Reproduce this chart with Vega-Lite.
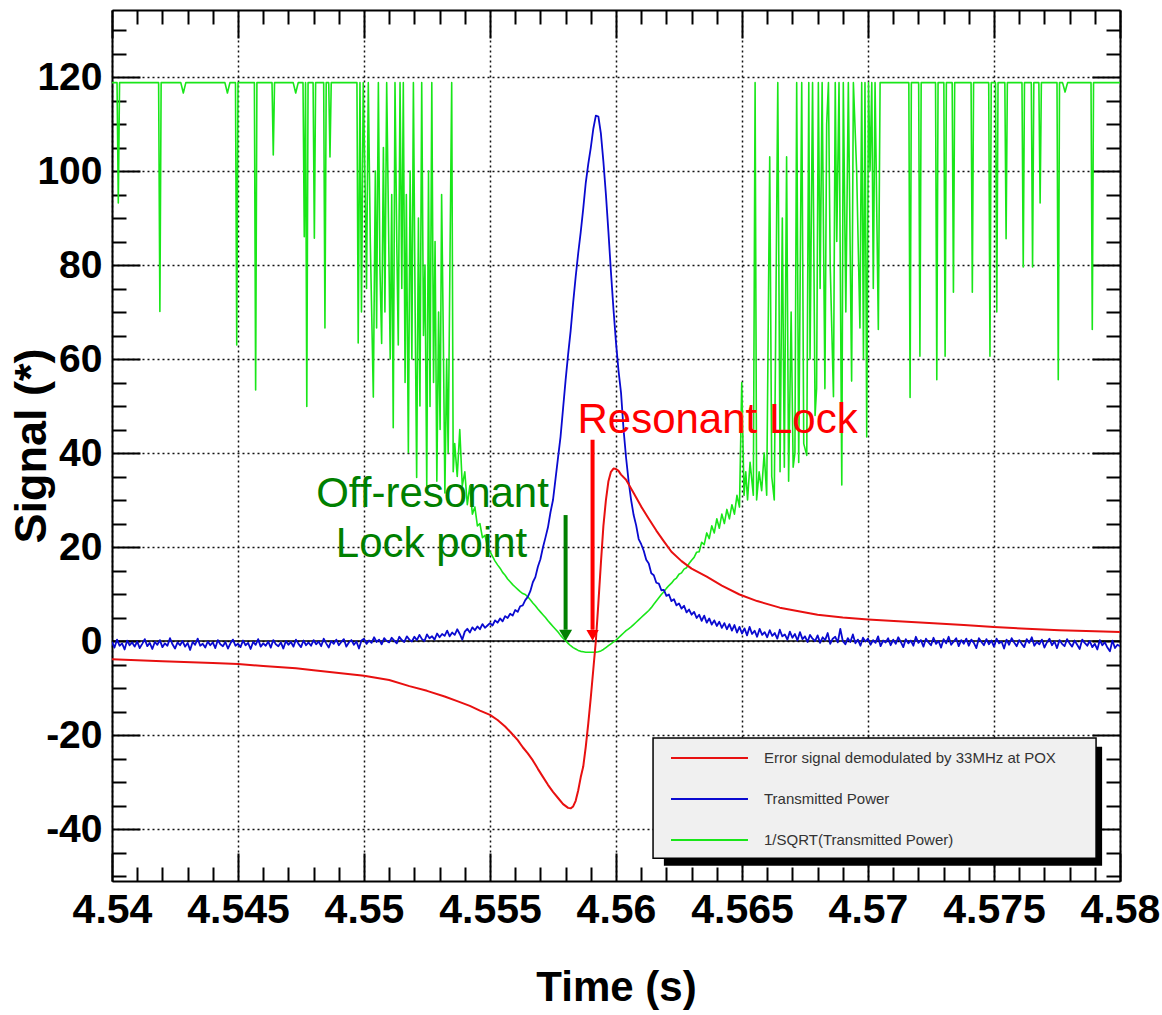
{
"$schema": "https://vega.github.io/schema/vega-lite/v6.json",
"width": 1008,
"height": 871,
"autosize": {"type": "none"},
"padding": {"left": 112, "top": 10, "right": 42, "bottom": 134},
"background": "white",
"config": {"view": {"stroke": null}, "axis": {"labelFont": "Liberation Sans", "titleFont": "Liberation Sans"}},
"datasets": {
"green": [
{"t":4.54,"v":118.8},
{"t":4.5402,"v":118.8},{"t":4.54025,"v":93.2},{"t":4.5403,"v":118.8},
{"t":4.54185,"v":118.8},{"t":4.5419,"v":70.1},{"t":4.54195,"v":118.8},
{"t":4.54273,"v":118.8},{"t":4.54283,"v":116.6},{"t":4.54293,"v":118.8},
{"t":4.54448,"v":118.8},{"t":4.54458,"v":116.6},{"t":4.54468,"v":118.8},
{"t":4.5449,"v":118.8},{"t":4.54495,"v":63},{"t":4.545,"v":118.8},
{"t":4.54565,"v":118.8},{"t":4.5457,"v":53.4},{"t":4.54575,"v":118.8},
{"t":4.54635,"v":118.8},{"t":4.5464,"v":103.4},{"t":4.54645,"v":118.8},
{"t":4.54719,"v":118.8},{"t":4.54729,"v":116.6},{"t":4.54739,"v":118.8},
{"t":4.54758,"v":118.8},{"t":4.54763,"v":86},{"t":4.54768,"v":118.8},{"t":4.54773,"v":49.9},{"t":4.54778,"v":118.8},
{"t":4.54798,"v":118.8},{"t":4.54803,"v":85.7},{"t":4.54808,"v":118.8},
{"t":4.5484,"v":118.8},{"t":4.54845,"v":66.6},{"t":4.5485,"v":118.8},
{"t":4.5486,"v":118.8},{"t":4.54865,"v":103},{"t":4.5487,"v":118.8},
{"t":4.54972,"v":118.8},{"t":4.54977,"v":63.4},{"t":4.54984,"v":118.8},
{"t":4.5499,"v":70},{"t":4.54997,"v":118.8},
{"t":4.55005,"v":95},{"t":4.5501,"v":75},{"t":4.55017,"v":118.8},
{"t":4.55025,"v":85},{"t":4.55037,"v":51.9},{"t":4.55045,"v":100},{"t":4.5505,"v":66.6},{"t":4.55057,"v":118.8},
{"t":4.55063,"v":80},{"t":4.5507,"v":63.3},{"t":4.55077,"v":105},{"t":4.55083,"v":70},{"t":4.5509,"v":118.8},
{"t":4.55097,"v":90},{"t":4.55104,"v":60},{"t":4.5511,"v":95},{"t":4.55116,"v":45.4},{"t":4.55123,"v":118.8},
{"t":4.5513,"v":85},{"t":4.55136,"v":63},{"t":4.55143,"v":118.8},{"t":4.5515,"v":75},{"t":4.55156,"v":118.8},
{"t":4.55163,"v":55},{"t":4.55168,"v":95},{"t":4.55176,"v":40.1},{"t":4.55183,"v":100},{"t":4.5519,"v":60},{"t":4.55196,"v":118.8},
{"t":4.55203,"v":70},{"t":4.55209,"v":34.8},{"t":4.55216,"v":90},{"t":4.55222,"v":50},{"t":4.55229,"v":118.8},
{"t":4.55236,"v":65},{"t":4.55242,"v":80},{"t":4.55249,"v":33.1},{"t":4.55256,"v":100},{"t":4.55262,"v":49.9},{"t":4.55269,"v":118.8},
{"t":4.55276,"v":55},{"t":4.55282,"v":85},{"t":4.55289,"v":34},{"t":4.55296,"v":70},{"t":4.55302,"v":45},{"t":4.55308,"v":95},
{"t":4.55315,"v":63.4},{"t":4.55321,"v":31.5},{"t":4.55328,"v":60},{"t":4.55334,"v":40},{"t":4.55341,"v":80},{"t":4.55348,"v":118.8},
{"t":4.55354,"v":36},
{"t":4.5536,"v":42},{"t":4.5537,"v":35},{"t":4.5538,"v":45},{"t":4.5539,"v":33},{"t":4.554,"v":36},{"t":4.5541,"v":29},{"t":4.5542,"v":33},{"t":4.5543,"v":27},{"t":4.5544,"v":28.5},{"t":4.5545,"v":24.5},
{"t":4.5546,"v":25},{"t":4.5547,"v":22},{"t":4.5548,"v":22.5},{"t":4.5549,"v":20},{"t":4.555,"v":19},{"t":4.5551,"v":18},{"t":4.5552,"v":17},{"t":4.5553,"v":16.2},{"t":4.5554,"v":15.5},{"t":4.5555,"v":14.6},
{"t":4.5556,"v":14},{"t":4.5557,"v":13.2},{"t":4.5558,"v":12.6},{"t":4.5559,"v":12},{"t":4.556,"v":11.5},{"t":4.5561,"v":11},{"t":4.5562,"v":10.5},{"t":4.5563,"v":10.1},{"t":4.5564,"v":9.9},{"t":4.5565,"v":9.4},
{"t":4.5566,"v":8.8},{"t":4.5567,"v":8.1},{"t":4.5568,"v":7.5},{"t":4.5569,"v":6.8},{"t":4.557,"v":6.2},{"t":4.5571,"v":5.6},{"t":4.5572,"v":5},{"t":4.5573,"v":4.3},{"t":4.5574,"v":3.7},{"t":4.5575,"v":3.1},
{"t":4.5576,"v":2.5},{"t":4.5577,"v":1.9},{"t":4.5578,"v":1.2},{"t":4.5579,"v":0.6},{"t":4.558,"v":0.1},{"t":4.5581,"v":-0.5},{"t":4.5582,"v":-1},{"t":4.5583,"v":-1.4},{"t":4.5584,"v":-1.7},{"t":4.5585,"v":-2},
{"t":4.5586,"v":-2.2},{"t":4.5587,"v":-2.3},{"t":4.5588,"v":-2.4},{"t":4.5589,"v":-2.4},{"t":4.559,"v":-2.4},{"t":4.5591,"v":-2.4},{"t":4.5592,"v":-2.4},{"t":4.5593,"v":-2.3},{"t":4.5594,"v":-2.1},{"t":4.5595,"v":-1.8},
{"t":4.5596,"v":-1.4},{"t":4.5597,"v":-1},{"t":4.5598,"v":-0.6},{"t":4.5599,"v":-0.2},{"t":4.56,"v":0.2},{"t":4.5601,"v":0.7},{"t":4.5602,"v":1.2},{"t":4.5603,"v":1.7},{"t":4.5604,"v":2.2},{"t":4.5605,"v":2.6},
{"t":4.5606,"v":3},{"t":4.5607,"v":3.5},{"t":4.5608,"v":4},{"t":4.5609,"v":4.5},{"t":4.561,"v":5},{"t":4.5611,"v":5.5},{"t":4.5612,"v":6},{"t":4.5613,"v":6.5},{"t":4.5614,"v":7.1},{"t":4.5615,"v":7.8},
{"t":4.5616,"v":8.5},{"t":4.5617,"v":9.2},{"t":4.5618,"v":9.9},{"t":4.5619,"v":10.5},{"t":4.562,"v":11.2},{"t":4.5621,"v":11.8},{"t":4.5622,"v":12.3},{"t":4.5623,"v":13},{"t":4.5624,"v":13.4},{"t":4.5625,"v":14.2},
{"t":4.5626,"v":14.5},{"t":4.5627,"v":15.3},{"t":4.5628,"v":15.6},{"t":4.5629,"v":16.5},{"t":4.563,"v":17.2},{"t":4.5631,"v":17.8},{"t":4.5632,"v":18.9},{"t":4.5633,"v":19},{"t":4.5634,"v":21},{"t":4.5635,"v":20.5},
{"t":4.5636,"v":23},{"t":4.5637,"v":21.8},{"t":4.5638,"v":24.5},{"t":4.5639,"v":23},{"t":4.564,"v":26},{"t":4.5641,"v":24},{"t":4.5642,"v":27},{"t":4.5643,"v":25},{"t":4.5644,"v":28},{"t":4.5645,"v":26},
{"t":4.5646,"v":29},{"t":4.5647,"v":27},{"t":4.5648,"v":31},{"t":4.5649,"v":28.5},
{"t":4.56499,"v":55},{"t":4.56508,"v":31},{"t":4.56515,"v":36},{"t":4.56522,"v":30},{"t":4.56532,"v":38},{"t":4.56545,"v":31},{"t":4.56552,"v":118.8},{"t":4.56558,"v":30},{"t":4.56568,"v":36},{"t":4.56578,"v":32},
{"t":4.56588,"v":40},{"t":4.56598,"v":31},{"t":4.5661,"v":103},{"t":4.56618,"v":35},{"t":4.56628,"v":30},{"t":4.56642,"v":118.8},{"t":4.56651,"v":36},{"t":4.5666,"v":90},{"t":4.56668,"v":37},{"t":4.56677,"v":103},
{"t":4.56685,"v":34},{"t":4.56695,"v":70},{"t":4.56703,"v":37},{"t":4.5671,"v":40},{"t":4.56717,"v":118.8},{"t":4.56725,"v":38},{"t":4.56737,"v":118.8},{"t":4.56745,"v":42},{"t":4.56757,"v":39.5},{"t":4.56765,"v":118.8},
{"t":4.5677,"v":60},{"t":4.5678,"v":118.8},{"t":4.5679,"v":48},{"t":4.56796,"v":53.7},{"t":4.56803,"v":118.8},{"t":4.5681,"v":75},{"t":4.56818,"v":118.8},{"t":4.56829,"v":53.7},{"t":4.56836,"v":110},{"t":4.56843,"v":118.8},
{"t":4.5685,"v":80},{"t":4.56863,"v":52},{"t":4.5687,"v":118.8},{"t":4.56876,"v":85},{"t":4.56885,"v":118.8},{"t":4.56896,"v":33.2},{"t":4.56902,"v":118.8},{"t":4.56912,"v":70},{"t":4.56922,"v":118.8},{"t":4.56935,"v":55.3},
{"t":4.56942,"v":118.8},{"t":4.56955,"v":100},{"t":4.56968,"v":66.6},{"t":4.56975,"v":118.8},{"t":4.56982,"v":60},{"t":4.56988,"v":118.8},{"t":4.56995,"v":43.4},{"t":4.57002,"v":118.8},{"t":4.57008,"v":100},{"t":4.57015,"v":118.8},
{"t":4.57021,"v":75},{"t":4.57028,"v":118.8},{"t":4.57041,"v":66.3},{"t":4.57048,"v":118.8},
{"t":4.57162,"v":118.8},{"t":4.57167,"v":51.8},{"t":4.57172,"v":118.8},
{"t":4.57201,"v":118.8},{"t":4.57206,"v":60.6},{"t":4.57211,"v":118.8},
{"t":4.57268,"v":118.8},{"t":4.57273,"v":55.6},{"t":4.57278,"v":118.8},
{"t":4.57301,"v":118.8},{"t":4.57306,"v":60.6},{"t":4.57311,"v":118.8},
{"t":4.57334,"v":118.8},{"t":4.57339,"v":74.2},{"t":4.57344,"v":118.8},
{"t":4.57409,"v":118.8},{"t":4.57414,"v":74.2},{"t":4.57419,"v":118.8},
{"t":4.57479,"v":118.8},{"t":4.57484,"v":60.6},{"t":4.57489,"v":118.8},
{"t":4.57506,"v":118.8},{"t":4.57511,"v":70},{"t":4.57516,"v":118.8},
{"t":4.57543,"v":118.8},{"t":4.57548,"v":85.6},{"t":4.57553,"v":118.8},
{"t":4.57611,"v":118.8},{"t":4.57616,"v":79.6},{"t":4.57621,"v":118.8},
{"t":4.57648,"v":118.8},{"t":4.57653,"v":79.6},{"t":4.57658,"v":118.8},
{"t":4.57678,"v":118.8},{"t":4.57683,"v":93.2},{"t":4.57688,"v":118.8},
{"t":4.5775,"v":118.8},{"t":4.57755,"v":55.6},{"t":4.5776,"v":118.8},
{"t":4.57772,"v":118.8},{"t":4.57782,"v":116.8},{"t":4.57792,"v":118.8},
{"t":4.57885,"v":118.8},{"t":4.5789,"v":66.3},{"t":4.57895,"v":118.8},
{"t":4.58,"v":118.8}
],
"blue": [
{"t":4.5400,"v":-0.2},{"t":4.5401,"v":-1.4},{"t":4.5402,"v":0.3},{"t":4.5403,"v":-1.0},{"t":4.5404,"v":-0.5},{"t":4.5405,"v":-1.8},{"t":4.5406,"v":0.1},{"t":4.5407,"v":-0.9},{"t":4.5408,"v":-0.3},{"t":4.5409,"v":-1.2},
{"t":4.5410,"v":-0.1},{"t":4.5411,"v":-1.5},{"t":4.5412,"v":-0.6},{"t":4.5413,"v":0.4},{"t":4.5414,"v":-1.1},{"t":4.5415,"v":-0.4},{"t":4.5416,"v":-1.7},{"t":4.5417,"v":-0.2},{"t":4.5418,"v":-0.8},{"t":4.5419,"v":0.2},
{"t":4.5420,"v":-1.3},{"t":4.5421,"v":-0.5},{"t":4.5422,"v":-1.0},{"t":4.5423,"v":0.6},{"t":4.5424,"v":-0.7},{"t":4.5425,"v":-1.6},{"t":4.5426,"v":-0.3},{"t":4.5427,"v":-0.9},{"t":4.5428,"v":0.0},{"t":4.5429,"v":-1.2},
{"t":4.5430,"v":-0.4},{"t":4.5431,"v":-1.9},{"t":4.5432,"v":-0.2},{"t":4.5433,"v":-0.8},{"t":4.5434,"v":0.5},{"t":4.5435,"v":-1.0},{"t":4.5436,"v":-0.6},{"t":4.5437,"v":-1.4},{"t":4.5438,"v":-0.1},{"t":4.5439,"v":-0.9},
{"t":4.5440,"v":-0.3},{"t":4.5441,"v":-1.5},{"t":4.5442,"v":0.2},{"t":4.5443,"v":-0.7},{"t":4.5444,"v":-1.1},{"t":4.5445,"v":-0.2},{"t":4.5446,"v":-1.6},{"t":4.5447,"v":-0.5},{"t":4.5448,"v":0.3},{"t":4.5449,"v":-1.0},
{"t":4.5450,"v":-0.6},{"t":4.5451,"v":-1.3},{"t":4.5452,"v":0.1},{"t":4.5453,"v":-0.9},{"t":4.5454,"v":-0.4},{"t":4.5455,"v":-1.7},{"t":4.5456,"v":-0.2},{"t":4.5457,"v":-0.8},{"t":4.5458,"v":0.4},{"t":4.5459,"v":-1.2},
{"t":4.5460,"v":-0.5},{"t":4.5461,"v":-1.0},{"t":4.5462,"v":-0.1},{"t":4.5463,"v":-1.4},{"t":4.5464,"v":0.2},{"t":4.5465,"v":-0.7},{"t":4.5466,"v":-1.1},{"t":4.5467,"v":-0.3},{"t":4.5468,"v":-1.6},{"t":4.5469,"v":0.0},
{"t":4.5470,"v":-0.8},{"t":4.5471,"v":-0.2},{"t":4.5472,"v":-1.2},{"t":4.5473,"v":0.3},{"t":4.5474,"v":-0.6},{"t":4.5475,"v":-1.3},{"t":4.5476,"v":0.1},{"t":4.5477,"v":-0.9},{"t":4.5478,"v":-0.3},{"t":4.5479,"v":-1.0},
{"t":4.5480,"v":0.2},{"t":4.5481,"v":-0.7},{"t":4.5482,"v":-0.1},{"t":4.5483,"v":-1.1},{"t":4.5484,"v":0.5},{"t":4.5485,"v":-0.5},{"t":4.5486,"v":-1.4},{"t":4.5487,"v":0.0},{"t":4.5488,"v":-0.6},{"t":4.5489,"v":0.3},
{"t":4.5490,"v":-0.9},{"t":4.5491,"v":-0.2},{"t":4.5492,"v":0.4},{"t":4.5493,"v":-1.2},{"t":4.5494,"v":-0.3},{"t":4.5495,"v":0.2},{"t":4.5496,"v":-0.8},{"t":4.5497,"v":-0.1},{"t":4.5498,"v":-1.6},{"t":4.5499,"v":0.1},
{"t":4.5500,"v":0.5},{"t":4.5501,"v":-0.6},{"t":4.5502,"v":0.1},{"t":4.5503,"v":-0.4},{"t":4.5504,"v":0.8},{"t":4.5505,"v":-0.2},{"t":4.5506,"v":0.3},{"t":4.5507,"v":-0.7},{"t":4.5508,"v":0.6},{"t":4.5509,"v":0.0},
{"t":4.5510,"v":-0.3},{"t":4.5511,"v":0.7},{"t":4.5512,"v":0.1},{"t":4.5513,"v":-0.5},{"t":4.5514,"v":0.9},{"t":4.5515,"v":0.2},{"t":4.5516,"v":-0.2},{"t":4.5517,"v":1.0},{"t":4.5518,"v":0.3},{"t":4.5519,"v":-0.1},
{"t":4.5520,"v":0.9},{"t":4.5521,"v":0.2},{"t":4.5522,"v":1.3},{"t":4.5523,"v":0.4},{"t":4.5524,"v":0.0},{"t":4.5525,"v":1.4},{"t":4.5526,"v":0.6},{"t":4.5527,"v":1.0},{"t":4.5528,"v":0.3},{"t":4.5529,"v":1.6},
{"t":4.5530,"v":0.8},{"t":4.5531,"v":1.5},{"t":4.5532,"v":1.1},{"t":4.5533,"v":2.2},{"t":4.5534,"v":1.0},{"t":4.5535,"v":1.8},{"t":4.5536,"v":1.3},{"t":4.5537,"v":2.5},{"t":4.5538,"v":1.5},{"t":4.5539,"v":0.3},
{"t":4.5540,"v":2.0},{"t":4.5541,"v":2.6},{"t":4.5542,"v":1.8},{"t":4.5543,"v":2.9},{"t":4.5544,"v":2.3},{"t":4.5545,"v":3.1},{"t":4.5546,"v":2.5},{"t":4.5547,"v":3.6},{"t":4.5548,"v":2.8},{"t":4.5549,"v":3.3},
{"t":4.5550,"v":3.8},{"t":4.5551,"v":3.3},{"t":4.5552,"v":4.4},{"t":4.5553,"v":3.9},{"t":4.5554,"v":4.8},{"t":4.5555,"v":4.2},{"t":4.5556,"v":5.3},{"t":4.5557,"v":4.9},{"t":4.5558,"v":5.8},{"t":4.5559,"v":5.4},
{"t":4.5560,"v":6.6},{"t":4.5561,"v":6.2},{"t":4.5562,"v":7.4},{"t":4.5563,"v":7.6},{"t":4.5564,"v":8.7},{"t":4.5565,"v":9.4},{"t":4.5566,"v":10.6},{"t":4.5567,"v":12.5},{"t":4.5568,"v":13.6},{"t":4.5569,"v":15.8},
{"t":4.5570,"v":17.4},{"t":4.5571,"v":19.9},{"t":4.5572,"v":22.0},{"t":4.5573,"v":24.2},{"t":4.5574,"v":27.4},{"t":4.5575,"v":30.0},{"t":4.5576,"v":34.5},{"t":4.5577,"v":39.0},{"t":4.5578,"v":43.5},{"t":4.5579,"v":49.5},
{"t":4.5580,"v":55.5},{"t":4.5581,"v":61},{"t":4.5582,"v":66},{"t":4.5583,"v":72},{"t":4.5584,"v":77.5},{"t":4.5585,"v":82.5},{"t":4.5586,"v":87},{"t":4.5587,"v":92},{"t":4.5588,"v":97.5},{"t":4.5589,"v":101.5},
{"t":4.5590,"v":105},{"t":4.5591,"v":109},{"t":4.5592,"v":111.8},{"t":4.5593,"v":111.6},{"t":4.5594,"v":108},{"t":4.5595,"v":102},{"t":4.5596,"v":95},{"t":4.5597,"v":87},{"t":4.5598,"v":78.5},{"t":4.5599,"v":70.6},
{"t":4.5600,"v":63.5},{"t":4.5601,"v":57.5},{"t":4.5602,"v":52.8},{"t":4.5603,"v":45},{"t":4.5604,"v":39},{"t":4.5605,"v":34},{"t":4.5606,"v":30},{"t":4.5607,"v":26.8},{"t":4.5608,"v":24.6},{"t":4.5609,"v":21.7},
{"t":4.5610,"v":20.6},{"t":4.5611,"v":19.2},{"t":4.5612,"v":17.3},{"t":4.5613,"v":16.5},{"t":4.5614,"v":14.4},{"t":4.5615,"v":14.0},{"t":4.5616,"v":12.4},{"t":4.5617,"v":12.2},{"t":4.5618,"v":10.8},{"t":4.5619,"v":10.9},
{"t":4.5620,"v":9.6},{"t":4.5621,"v":9.9},{"t":4.5622,"v":8.5},{"t":4.5623,"v":8.9},{"t":4.5624,"v":7.6},{"t":4.5625,"v":8.0},{"t":4.5626,"v":6.9},{"t":4.5627,"v":7.5},{"t":4.5628,"v":6.1},{"t":4.5629,"v":6.7},
{"t":4.5630,"v":5.6},{"t":4.5631,"v":6.2},{"t":4.5632,"v":4.9},{"t":4.5633,"v":5.6},{"t":4.5634,"v":4.3},{"t":4.5635,"v":5.4},{"t":4.5636,"v":3.9},{"t":4.5637,"v":4.8},{"t":4.5638,"v":3.5},{"t":4.5639,"v":4.4},
{"t":4.5640,"v":3.2},{"t":4.5641,"v":4.1},{"t":4.5642,"v":2.8},{"t":4.5643,"v":3.8},{"t":4.5644,"v":2.5},{"t":4.5645,"v":3.6},{"t":4.5646,"v":2.2},{"t":4.5647,"v":3.4},{"t":4.5648,"v":1.8},{"t":4.5649,"v":3.0},
{"t":4.5650,"v":1.6},{"t":4.5651,"v":2.7},{"t":4.5652,"v":1.2},{"t":4.5653,"v":3.0},{"t":4.5654,"v":1.5},{"t":4.5655,"v":2.2},{"t":4.5656,"v":0.9},{"t":4.5657,"v":2.6},{"t":4.5658,"v":1.3},{"t":4.5659,"v":1.9},
{"t":4.5660,"v":0.8},{"t":4.5661,"v":2.3},{"t":4.5662,"v":1.1},{"t":4.5663,"v":1.7},{"t":4.5664,"v":0.5},{"t":4.5665,"v":2.4},{"t":4.5666,"v":1.0},{"t":4.5667,"v":1.4},{"t":4.5668,"v":0.3},{"t":4.5669,"v":2.0},
{"t":4.5670,"v":0.7},{"t":4.5671,"v":1.5},{"t":4.5672,"v":0.1},{"t":4.5673,"v":1.9},{"t":4.5674,"v":0.4},{"t":4.5675,"v":1.0},{"t":4.5676,"v":-0.2},{"t":4.5677,"v":1.3},{"t":4.5678,"v":0.5},{"t":4.5679,"v":0.0},
{"t":4.5680,"v":1.2},{"t":4.5681,"v":-0.4},{"t":4.5682,"v":0.8},{"t":4.5683,"v":0.2},{"t":4.5684,"v":1.7},{"t":4.5685,"v":-0.6},{"t":4.5686,"v":0.5},{"t":4.5687,"v":0.9},{"t":4.5688,"v":-0.3},{"t":4.5689,"v":2.6},
{"t":4.5690,"v":0.0},{"t":4.5691,"v":-0.7},{"t":4.5692,"v":0.6},{"t":4.5693,"v":-0.2},{"t":4.5694,"v":1.4},{"t":4.5695,"v":-0.5},{"t":4.5696,"v":0.3},{"t":4.5697,"v":-1.0},{"t":4.5698,"v":0.7},{"t":4.5699,"v":-0.1},
{"t":4.5700,"v":0.5},{"t":4.5701,"v":-0.8},{"t":4.5702,"v":0.2},{"t":4.5703,"v":-0.4},{"t":4.5704,"v":1.0},{"t":4.5705,"v":-1.1},{"t":4.5706,"v":0.1},{"t":4.5707,"v":-0.3},{"t":4.5708,"v":0.6},{"t":4.5709,"v":-0.9},
{"t":4.5710,"v":0.3},{"t":4.5711,"v":-0.6},{"t":4.5712,"v":0.8},{"t":4.5713,"v":-0.2},{"t":4.5714,"v":-1.3},{"t":4.5715,"v":0.4},{"t":4.5716,"v":-0.5},{"t":4.5717,"v":0.1},{"t":4.5718,"v":-1.0},{"t":4.5719,"v":0.9},
{"t":4.5720,"v":-0.4},{"t":4.5721,"v":0.2},{"t":4.5722,"v":-1.2},{"t":4.5723,"v":0.5},{"t":4.5724,"v":-0.3},{"t":4.5725,"v":-0.9},{"t":4.5726,"v":0.7},{"t":4.5727,"v":-0.6},{"t":4.5728,"v":0.0},{"t":4.5729,"v":-1.4},
{"t":4.5730,"v":0.4},{"t":4.5731,"v":-0.5},{"t":4.5732,"v":0.9},{"t":4.5733,"v":-0.8},{"t":4.5734,"v":-0.1},{"t":4.5735,"v":0.6},{"t":4.5736,"v":-1.1},{"t":4.5737,"v":0.2},{"t":4.5738,"v":-0.6},{"t":4.5739,"v":0.5},
{"t":4.5740,"v":-1.0},{"t":4.5741,"v":0.3},{"t":4.5742,"v":-0.4},{"t":4.5743,"v":-1.5},{"t":4.5744,"v":0.6},{"t":4.5745,"v":-0.2},{"t":4.5746,"v":-0.9},{"t":4.5747,"v":0.4},{"t":4.5748,"v":-0.7},{"t":4.5749,"v":0.1},
{"t":4.5750,"v":-1.2},{"t":4.5751,"v":0.5},{"t":4.5752,"v":-0.5},{"t":4.5753,"v":-0.1},{"t":4.5754,"v":-1.6},{"t":4.5755,"v":0.3},{"t":4.5756,"v":-0.8},{"t":4.5757,"v":0.6},{"t":4.5758,"v":-0.3},{"t":4.5759,"v":-1.1},
{"t":4.5760,"v":0.2},{"t":4.5761,"v":-0.6},{"t":4.5762,"v":-1.3},{"t":4.5763,"v":0.4},{"t":4.5764,"v":-0.4},{"t":4.5765,"v":0.8},{"t":4.5766,"v":-1.0},{"t":4.5767,"v":-0.2},{"t":4.5768,"v":-0.7},{"t":4.5769,"v":0.3},
{"t":4.5770,"v":-1.4},{"t":4.5771,"v":-0.3},{"t":4.5772,"v":0.5},{"t":4.5773,"v":-0.9},{"t":4.5774,"v":-0.1},{"t":4.5775,"v":-1.5},{"t":4.5776,"v":0.2},{"t":4.5777,"v":-0.6},{"t":4.5778,"v":-1.1},{"t":4.5779,"v":0.4},
{"t":4.5780,"v":-0.5},{"t":4.5781,"v":-1.2},{"t":4.5782,"v":0.1},{"t":4.5783,"v":-0.8},{"t":4.5784,"v":-1.7},{"t":4.5785,"v":0.3},{"t":4.5786,"v":-0.4},{"t":4.5787,"v":-1.0},{"t":4.5788,"v":0.0},{"t":4.5789,"v":-1.3},
{"t":4.5790,"v":-0.6},{"t":4.5791,"v":-1.8},{"t":4.5792,"v":0.2},{"t":4.5793,"v":-0.9},{"t":4.5794,"v":-0.3},{"t":4.5795,"v":-1.4},{"t":4.5796,"v":-2.2},{"t":4.5797,"v":0.1},{"t":4.5798,"v":-1.5},{"t":4.5799,"v":-0.8},
{"t":4.5800,"v":-1.1}
],
"red": [
{"t":4.54,"v":-3.9},{"t":4.542,"v":-4.3},{"t":4.544,"v":-4.7},{"t":4.545,"v":-4.9},{"t":4.546,"v":-5.3},{"t":4.5473,"v":-5.8},{"t":4.548,"v":-6.2},{"t":4.549,"v":-6.8},{"t":4.55,"v":-7.4},{"t":4.551,"v":-8.3},
{"t":4.5518,"v":-9.6},{"t":4.5525,"v":-10.6},{"t":4.5532,"v":-11.8},{"t":4.5537,"v":-12.8},{"t":4.5542,"v":-13.8},{"t":4.5546,"v":-14.8},{"t":4.555,"v":-15.7},{"t":4.5553,"v":-16.8},{"t":4.5556,"v":-18.2},{"t":4.5558,"v":-19.3},
{"t":4.5561,"v":-21.1},{"t":4.5563,"v":-22.6},{"t":4.5565,"v":-23.9},{"t":4.5567,"v":-25.4},{"t":4.5569,"v":-27.2},{"t":4.5571,"v":-28.9},{"t":4.5573,"v":-30.6},{"t":4.5575,"v":-32.1},{"t":4.5577,"v":-33.4},{"t":4.5579,"v":-34.7},
{"t":4.5581,"v":-35.5},{"t":4.5582,"v":-35.6},{"t":4.5583,"v":-35.2},{"t":4.5584,"v":-34},{"t":4.5585,"v":-31.8},{"t":4.5586,"v":-29},{"t":4.5587,"v":-26.7},{"t":4.5588,"v":-22.5},{"t":4.5589,"v":-17.5},{"t":4.559,"v":-12},
{"t":4.5591,"v":-6},{"t":4.5592,"v":0},{"t":4.5593,"v":8},{"t":4.5594,"v":16.5},{"t":4.5595,"v":24.5},{"t":4.5596,"v":30},{"t":4.5597,"v":34},{"t":4.5598,"v":36},{"t":4.5599,"v":36.7},{"t":4.56,"v":36.6},
{"t":4.5601,"v":36.2},{"t":4.5602,"v":35.4},{"t":4.5604,"v":34.3},{"t":4.5607,"v":31.5},{"t":4.561,"v":28.6},{"t":4.5613,"v":26},{"t":4.5616,"v":23.5},{"t":4.5619,"v":21.2},{"t":4.5622,"v":19},{"t":4.5626,"v":17},
{"t":4.563,"v":15.4},{"t":4.5636,"v":13.7},{"t":4.5642,"v":11.8},{"t":4.5649,"v":9.9},{"t":4.5656,"v":8.5},{"t":4.5665,"v":7.1},{"t":4.5673,"v":6.3},{"t":4.568,"v":5.6},{"t":4.569,"v":5.0},{"t":4.57,"v":4.6},
{"t":4.5712,"v":4.2},{"t":4.5726,"v":3.8},{"t":4.5738,"v":3.4},{"t":4.575,"v":3.0},{"t":4.5763,"v":2.6},{"t":4.5776,"v":2.3},{"t":4.579,"v":2.1},{"t":4.58,"v":1.9}
],
"arrows": [
{"k":"off","t":4.558,"top":26.8,"base":2.4,"head":1.2},
{"k":"res","t":4.55907,"top":42.8,"base":2.4,"head":1.2}
],
"notes": [
{"k":"off","t":4.55272,"v":28.5,"text":"Off-resonant"},
{"k":"off","t":4.55268,"v":17.9,"text":"Lock point"},
{"k":"res","t":4.56403,"v":44.2,"text":"Resonant Lock"}
]
},
"layer": [
{
"data": {"values": [{}]},
"mark": {"type": "rule", "color": "#000000", "strokeWidth": 1.5},
"encoding": {"y": {"datum": 0, "type": "quantitative", "scale": {"domain": [-51.06, 134.26], "nice": false, "zero": false}, "axis": null}}
},
{
"data": {"name": "green"},
"mark": {"type": "line", "strokeWidth": 1.6, "strokeJoin": "round", "clip": true},
"encoding": {
"x": {"field": "t", "type": "quantitative", "scale": {"domain": [4.54, 4.58], "nice": false, "zero": false},
"axis": {"orient": "bottom", "values": [4.54,4.545,4.55,4.555,4.56,4.565,4.57,4.575,4.58], "labelExpr": "'' + datum.value", "labelFont": "Liberation Sans", "labelFontWeight": "bold", "labelFontSize": 41, "labelColor": "#000000", "labelPadding": 37, "labelFlush": false, "labelOverlap": false, "labelBound": false, "tickSize": -28, "tickWidth": 2, "tickColor": "#000000", "domain": true, "domainColor": "#000000", "domainWidth": 2, "grid": true, "gridColor": "#111111", "gridDash": [2, 3], "gridWidth": 1.5, "title": "Time (s)", "titleFont": "Liberation Sans", "titleFontWeight": "bold", "titleFontSize": 42, "titleColor": "#000000", "titleX": 504, "titleY": 119, "titleAlign": "center", "titleBaseline": "alphabetic"}},
"y": {"field": "v", "type": "quantitative", "scale": {"domain": [-51.06, 134.26], "nice": false, "zero": false},
"axis": {"orient": "left", "values": [-40,-20,0,20,40,60,80,100,120], "labelExpr": "'' + datum.value", "labelFont": "Liberation Sans", "labelFontWeight": "bold", "labelFontSize": 39, "labelColor": "#000000", "labelPadding": 38, "labelFlush": false, "labelOverlap": false, "labelBound": false, "tickSize": -28, "tickWidth": 2, "tickColor": "#000000", "domain": true, "domainColor": "#000000", "domainWidth": 2, "grid": true, "gridColor": "#111111", "gridDash": [2, 3], "gridWidth": 1.5, "title": "Signal (*)", "titleFont": "Liberation Sans", "titleFontWeight": "bold", "titleFontSize": 45, "titleColor": "#000000", "titleAngle": 270, "titleX": -67, "titleY": 435.5, "titleAlign": "center", "titleBaseline": "alphabetic"}},
"color": {"datum": "1/SQRT(Transmitted Power)", "type": "nominal",
"scale": {"domain": ["Error signal demodulated by 33MHz at POX", "Transmitted Power", "1/SQRT(Transmitted Power)"], "range": ["#e81010", "#0a0ad0", "#19e619"]},
"legend": {"orient": "none", "legendX": 550, "legendY": 739, "title": null, "symbolType": "M0,0H10", "symbolSize": 237, "symbolStrokeWidth": 2, "labelFont": "Liberation Sans", "labelFontSize": 15, "labelColor": "#333333", "labelOffset": 84, "labelLimit": 600, "rowPadding": 24, "padding": 0, "zindex": 3}}
}
},
{
"data": {"name": "blue"},
"mark": {"type": "line", "strokeWidth": 1.8, "strokeJoin": "round", "clip": true},
"encoding": {
"x": {"field": "t", "type": "quantitative", "scale": {"domain": [4.54, 4.58], "nice": false, "zero": false},
"axis": {"orient": "bottom", "values": [4.541,4.542,4.543,4.544,4.546,4.547,4.548,4.549,4.551,4.552,4.553,4.554,4.556,4.557,4.558,4.559,4.561,4.562,4.563,4.564,4.566,4.567,4.568,4.569,4.571,4.572,4.573,4.574,4.576,4.577,4.578,4.579], "labels": false, "domain": false, "grid": false, "tickSize": -14, "tickWidth": 2, "tickColor": "#000000", "title": null}},
"y": {"field": "v", "type": "quantitative", "scale": {"domain": [-51.06, 134.26], "nice": false, "zero": false},
"axis": {"orient": "left", "values": [-50,-45,-35,-30,-25,-15,-10,-5,5,10,15,25,30,35,45,50,55,65,70,75,85,90,95,105,110,115,125,130], "labels": false, "domain": false, "grid": false, "tickSize": -14, "tickWidth": 2, "tickColor": "#000000", "title": null}},
"color": {"datum": "Transmitted Power", "type": "nominal"}
}
},
{
"data": {"name": "red"},
"mark": {"type": "line", "strokeWidth": 2, "strokeJoin": "round", "clip": true},
"encoding": {
"x": {"field": "t", "type": "quantitative", "scale": {"domain": [4.54, 4.58], "nice": false, "zero": false},
"axis": {"orient": "top", "values": [4.54,4.545,4.55,4.555,4.56,4.565,4.57,4.575,4.58], "labels": false, "domain": true, "domainColor": "#000000", "domainWidth": 2, "grid": false, "tickSize": -28, "tickWidth": 2, "tickColor": "#000000", "title": null}},
"y": {"field": "v", "type": "quantitative", "scale": {"domain": [-51.06, 134.26], "nice": false, "zero": false},
"axis": {"orient": "right", "values": [-40,-20,0,20,40,60,80,100,120], "labels": false, "domain": true, "domainColor": "#000000", "domainWidth": 2, "grid": false, "tickSize": -28, "tickWidth": 2, "tickColor": "#000000", "title": null}},
"color": {"datum": "Error signal demodulated by 33MHz at POX", "type": "nominal"}
}
},
{
"data": {"name": "arrows"},
"transform": [{"filter": "datum.k === 'off'"}],
"mark": {"type": "rule", "color": "#008000", "strokeWidth": 4},
"encoding": {
"x": {"field": "t", "type": "quantitative", "scale": {"domain": [4.54, 4.58], "nice": false, "zero": false},
"axis": {"orient": "top", "values": [4.541,4.542,4.543,4.544,4.546,4.547,4.548,4.549,4.551,4.552,4.553,4.554,4.556,4.557,4.558,4.559,4.561,4.562,4.563,4.564,4.566,4.567,4.568,4.569,4.571,4.572,4.573,4.574,4.576,4.577,4.578,4.579], "labels": false, "domain": false, "grid": false, "tickSize": -14, "tickWidth": 2, "tickColor": "#000000", "title": null}},
"y": {"field": "top", "type": "quantitative", "scale": {"domain": [-51.06, 134.26], "nice": false, "zero": false},
"axis": {"orient": "right", "values": [-50,-45,-35,-30,-25,-15,-10,-5,5,10,15,25,30,35,45,50,55,65,70,75,85,90,95,105,110,115,125,130], "labels": false, "domain": false, "grid": false, "tickSize": -14, "tickWidth": 2, "tickColor": "#000000", "title": null}},
"y2": {"field": "base"}
}
},
{
"data": {"name": "arrows"},
"transform": [{"filter": "datum.k === 'res'"}],
"mark": {"type": "rule", "color": "#ff0000", "strokeWidth": 4},
"encoding": {
"x": {"field": "t", "type": "quantitative", "scale": {"domain": [4.54, 4.58], "nice": false, "zero": false}, "axis": null},
"y": {"field": "top", "type": "quantitative", "scale": {"domain": [-51.06, 134.26], "nice": false, "zero": false}, "axis": null},
"y2": {"field": "base"}
}
},
{
"data": {"name": "arrows"},
"transform": [{"filter": "datum.k === 'off'"}],
"mark": {"type": "point", "shape": "triangle-down", "filled": true, "size": 169, "color": "#008000", "opacity": 1, "strokeWidth": 0},
"encoding": {
"x": {"field": "t", "type": "quantitative", "scale": {"domain": [4.54, 4.58], "nice": false, "zero": false}, "axis": null},
"y": {"field": "head", "type": "quantitative", "scale": {"domain": [-51.06, 134.26], "nice": false, "zero": false}, "axis": null}
}
},
{
"data": {"name": "arrows"},
"transform": [{"filter": "datum.k === 'res'"}],
"mark": {"type": "point", "shape": "triangle-down", "filled": true, "size": 150, "color": "#ff0000", "opacity": 1, "strokeWidth": 0},
"encoding": {
"x": {"field": "t", "type": "quantitative", "scale": {"domain": [4.54, 4.58], "nice": false, "zero": false}, "axis": null},
"y": {"field": "head", "type": "quantitative", "scale": {"domain": [-51.06, 134.26], "nice": false, "zero": false}, "axis": null}
}
},
{
"data": {"name": "notes"},
"transform": [{"filter": "datum.k === 'off'"}],
"mark": {"type": "text", "font": "Liberation Sans", "fontSize": 42, "color": "#008000", "align": "center", "baseline": "alphabetic"},
"encoding": {
"x": {"field": "t", "type": "quantitative", "scale": {"domain": [4.54, 4.58], "nice": false, "zero": false}, "axis": null},
"y": {"field": "v", "type": "quantitative", "scale": {"domain": [-51.06, 134.26], "nice": false, "zero": false}, "axis": null},
"text": {"field": "text"}
}
},
{
"data": {"name": "notes"},
"transform": [{"filter": "datum.k === 'res'"}],
"mark": {"type": "text", "font": "Liberation Sans", "fontSize": 42, "color": "#ff0000", "align": "center", "baseline": "alphabetic"},
"encoding": {
"x": {"field": "t", "type": "quantitative", "scale": {"domain": [4.54, 4.58], "nice": false, "zero": false}, "axis": null},
"y": {"field": "v", "type": "quantitative", "scale": {"domain": [-51.06, 134.26], "nice": false, "zero": false}, "axis": null},
"text": {"field": "text"}
}
},
{
"data": {"values": [{}]},
"mark": {"type": "rect", "color": "#000000"},
"encoding": {
"x": {"datum": 4.5619, "type": "quantitative", "scale": {"domain": [4.54, 4.58], "nice": false, "zero": false}, "axis": null},
"x2": {"datum": 4.57929},
"y": {"datum": -22.5, "type": "quantitative", "scale": {"domain": [-51.06, 134.26], "nice": false, "zero": false}, "axis": null},
"y2": {"datum": -47.8}
}
},
{
"data": {"values": [{}]},
"mark": {"type": "rect", "fill": "#f0f0f0", "stroke": "#000000", "strokeWidth": 1.5},
"encoding": {
"x": {"datum": 4.56147, "type": "quantitative", "scale": {"domain": [4.54, 4.58], "nice": false, "zero": false}, "axis": null},
"x2": {"datum": 4.57905},
"y": {"datum": -20.64, "type": "quantitative", "scale": {"domain": [-51.06, 134.26], "nice": false, "zero": false}, "axis": null},
"y2": {"datum": -46.2}
}
}
],
"resolve": {"axis": {"x": "independent", "y": "independent"}}
}
